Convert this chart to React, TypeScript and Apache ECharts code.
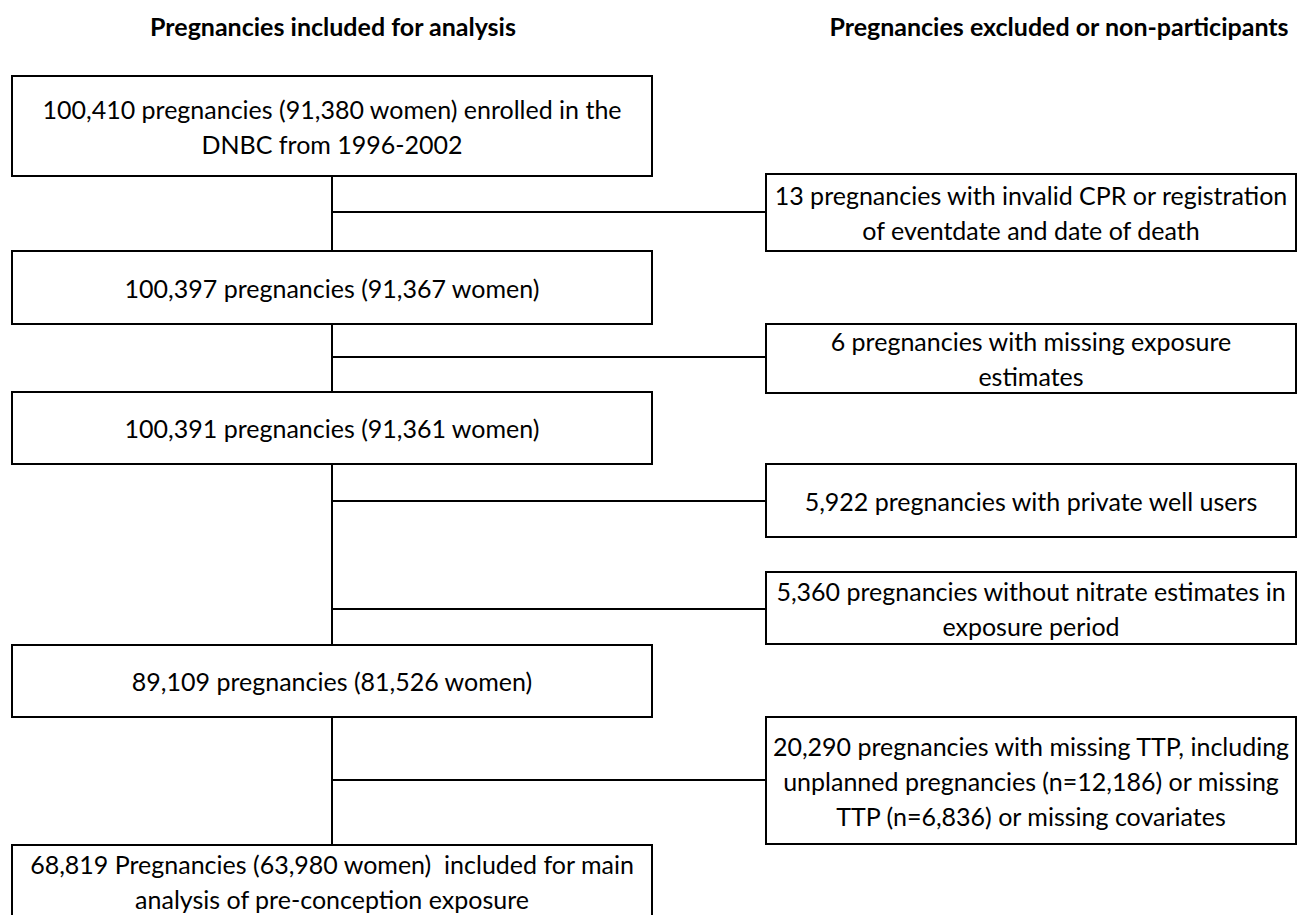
import React, { useEffect, useRef } from "react";
import * as echarts from "echarts";

// Column headers
const headers = ["Pregnancies included for analysis", "Pregnancies excluded or non-participants"];

// Included pregnancies (left column), each entry a list of text lines
const includedBoxes: string[][] = [
  ["100,410 pregnancies (91,380 women) enrolled in the", "DNBC from 1996-2002"],
  ["100,397 pregnancies (91,367 women)"],
  ["100,391 pregnancies (91,361 women)"],
  ["89,109 pregnancies (81,526 women)"],
  ["68,819 Pregnancies (63,980 women)  included for main", "analysis of pre-conception exposure"],
];

// Excluded pregnancies (right column)
const excludedBoxes: string[][] = [
  ["13 pregnancies with invalid CPR or registration", "of eventdate and date of death"],
  ["6 pregnancies with missing exposure", "estimates"],
  ["5,922 pregnancies with private well users"],
  ["5,360 pregnancies without nitrate estimates in", "exposure period"],
  ["20,290 pregnancies with missing TTP, including", "unplanned pregnancies (n=12,186) or missing", "TTP (n=6,836) or missing covariates"],
];

// Layout (pixels)
const leftX = 12, leftW = 640;
const rightX = 766, rightW = 530;
const spineX = 332;
const leftY: [number, number][] = [[76, 176], [251, 324], [392, 464], [645, 717], [845, 917]];
const rightY: [number, number][] = [[174, 251], [324, 393], [464, 537], [572, 644], [717, 844]];
const branchY = [212, 357, 501, 609, 780];

const FONT = "Lato, 'Open Sans', sans-serif";
const FS = 25;
const LH = 35;

export default function App() {
  const ref = useRef<HTMLDivElement>(null);
  useEffect(() => {
    document.body.style.margin = "0";
    const chart = echarts.init(ref.current!, null, { renderer: "svg" });
    const els: any[] = [];
    const box = (x: number, y0: number, y1: number, w: number, lines: string[]) => {
      els.push({
        type: "rect",
        shape: { x, y: y0, width: w, height: y1 - y0 },
        style: { fill: "#fff", stroke: "#000", lineWidth: 2 },
      });
      const cy = (y0 + y1) / 2;
      lines.forEach((t, i) => {
        els.push({
          type: "text",
          x: x + w / 2,
          y: cy + (i - (lines.length - 1) / 2) * LH,
          style: {
            text: t, x: 0, y: 0, textAlign: "center", textVerticalAlign: "middle",
            fontFamily: FONT, fontSize: FS, fill: "#000",
          },
        });
      });
    };
    // spine segments
    for (let i = 0; i < leftY.length - 1; i++) {
      els.push({ type: "line", shape: { x1: spineX, y1: leftY[i][1], x2: spineX, y2: leftY[i + 1][0] }, style: { stroke: "#000", lineWidth: 2 } });
    }
    branchY.forEach((y) => {
      els.push({ type: "line", shape: { x1: spineX, y1: y, x2: rightX, y2: y }, style: { stroke: "#000", lineWidth: 2 } });
    });
    includedBoxes.forEach((l, i) => box(leftX, leftY[i][0], leftY[i][1], leftW, l));
    excludedBoxes.forEach((l, i) => box(rightX, rightY[i][0], rightY[i][1], rightW, l));
    els.push({ type: "text", x: 333, y: 26, style: { text: headers[0], x: 0, y: 0, textAlign: "center", textVerticalAlign: "middle", fontFamily: FONT, fontWeight: "bold", fontSize: 25, fill: "#000" } });
    els.push({ type: "text", x: 1059, y: 26, style: { text: headers[1], x: 0, y: 0, textAlign: "center", textVerticalAlign: "middle", fontFamily: FONT, fontWeight: "bold", fontSize: 25, fill: "#000" } });

    chart.setOption({ animation: false, backgroundColor: "#fff", graphic: { elements: els } });
    return () => chart.dispose();
  }, []);
  return <div ref={ref} style={{ position: "absolute", left: 0, top: 0, width: 1304, height: 915 }} />;
}
